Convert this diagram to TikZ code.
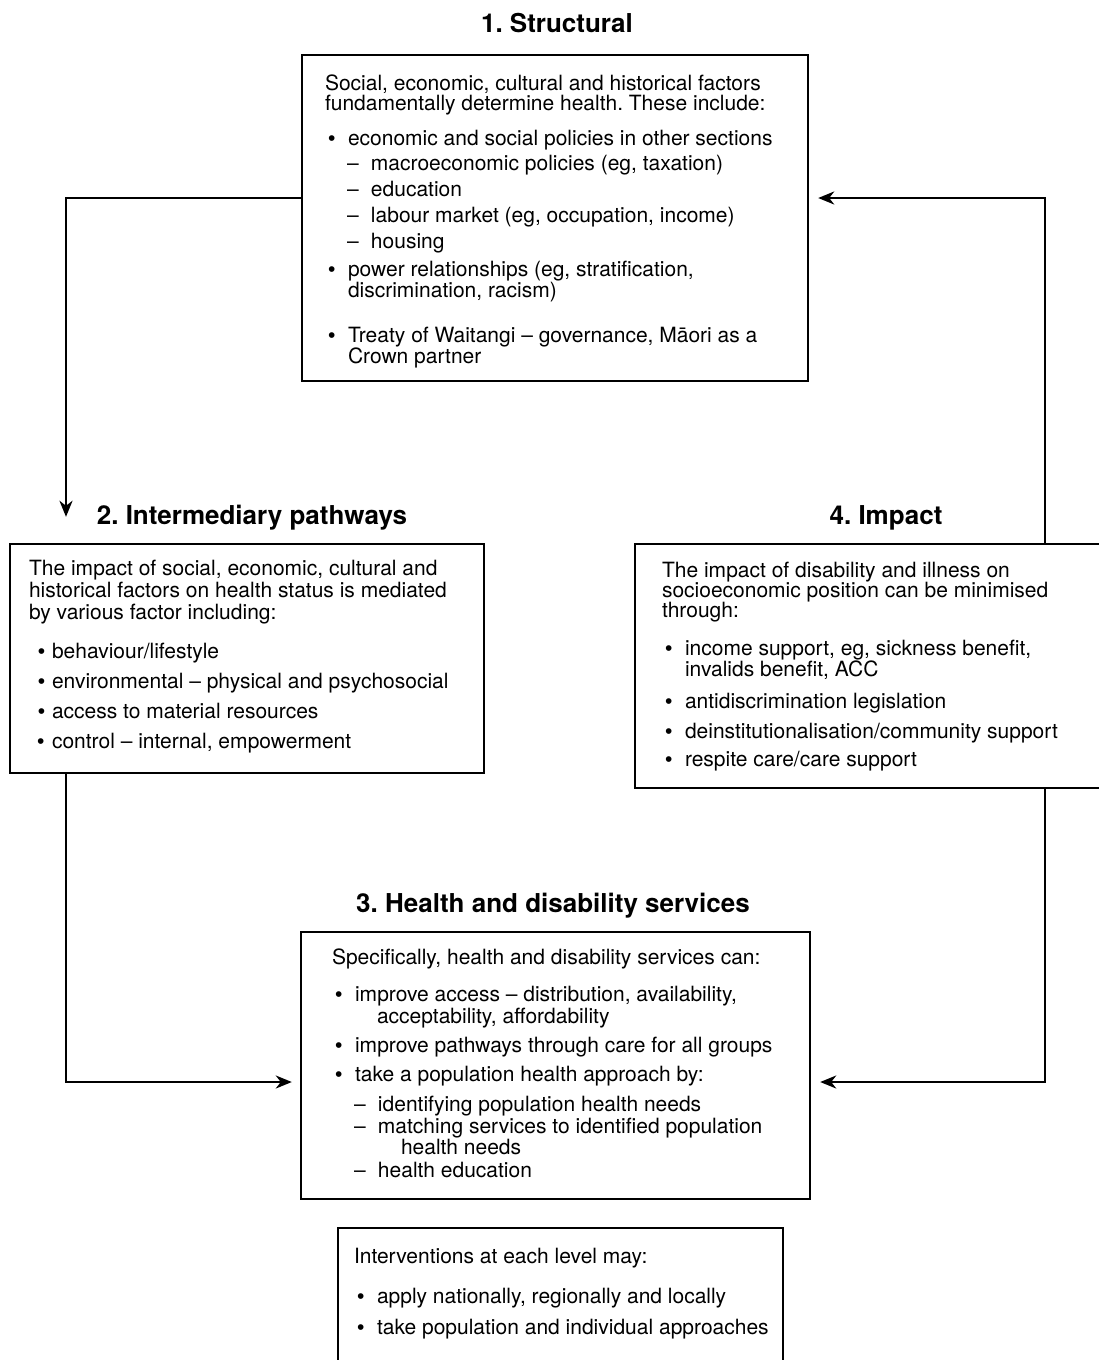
\documentclass[tikz,border=0pt]{standalone}
\usepackage{fontspec}
\setmainfont{TeX Gyre Heros}
\newfontfamily\dotfont{Liberation Sans}
\usetikzlibrary{arrows.meta}
\frenchspacing

\newcommand{\bul}[1][3pt]{\makebox[23pt][l]{\hspace{#1}{\dotfont •}}}
\newcommand{\dsh}{\hspace*{22pt}\makebox[24pt][l]{–}}
\newcommand{\hang}[1]{\hspace*{#1}}

\begin{document}
\begin{tikzpicture}[x=1pt, y=-1pt,
  frame/.style={draw, line width=2.4pt, inner sep=0pt},
  body/.style={anchor=north west, align=left, inner sep=0pt,
    font=\fontsize{21}{21}\selectfont},
  head/.style={anchor=base, font=\fontsize{26}{26}\selectfont\bfseries},
  flow/.style={line width=2.4pt, -{Stealth[length=16pt, width=13pt, inset=5pt]}},
]
  \useasboundingbox (0,0) rectangle (1098,1360);

  \node[head] (t1) at (557,32.5) {1. Structural};
  \node[head] (t2) at (252,524.5) {2. Intermediary pathways};
  \node[head] (t4) at (886,524.5) {4. Impact};
  \node[head] (t3) at (553,912.5) {3. Health and disability services};

  \node[frame, minimum width=506pt, minimum height=326pt] (s1) at (555,218) {};
  \node[frame, minimum width=474pt, minimum height=229pt] (s2) at (247,658.5) {};
  \node[frame, minimum width=477pt, minimum height=244pt] (s4) at (873.5,666) {};
  \node[frame, minimum width=509pt, minimum height=267pt] (s3) at (555.5,1065.5) {};
  \node[frame, minimum width=445pt, minimum height=162pt] (s5) at (560.5,1309) {};

  \node[body] (b1) at ([shift={(24,21)}]s1.north west) {%
    Social, economic, cultural and historical factors\\[-1pt]
    fundamentally determine health. These include:\\[14pt]
    \bul economic and social policies in other sections\\[4pt]
    \dsh macroeconomic policies (eg, taxation)\\[5pt]
    \dsh education\\[5pt]
    \dsh labour market (eg, occupation, income)\\[5pt]
    \dsh housing\\[7pt]
    \bul power relationships (eg, stratification,\\
    \hang{23pt}discrimination, racism)\\[24pt]
    \bul Treaty of Waitangi – governance, Māori as a\\
    \hang{23pt}Crown partner};

  \node[body] (b2) at ([shift={(20,17)}]s2.north west) {%
    The impact of social, economic, cultural and\\[1pt]
    historical factors on health status is mediated\\[1pt]
    by various factor including:\\[18pt]
    \bul[9pt]behaviour/lifestyle\\[9pt]
    \bul[9pt]environmental – physical and psychosocial\\[9pt]
    \bul[9pt]access to material resources\\[9pt]
    \bul[8pt]control – internal, empowerment};

  \node[body] (b4) at ([shift={(28,19)}]s4.north west) {%
    The impact of disability and illness on\\[-1pt]
    socioeconomic position can be minimised\\[-1pt]
    through:\\[17pt]
    \bul income support, eg, sickness benefit,\\
    \hang{23pt}invalids benefit, ACC\\[11pt]
    \bul antidiscrimination legislation\\[9pt]
    \bul deinstitutionalisation/community support\\[7pt]
    \bul respite care/care support};

  \node[body] (b3) at ([shift={(32,18)}]s3.north west) {%
    Specifically, health and disability services can:\\[16pt]
    \bul improve access – distribution, availability,\\[1pt]
    \hang{45pt}acceptability, affordability\\[8pt]
    \bul improve pathways through care for all groups\\[8pt]
    \bul take a population health approach by:\\[9pt]
    \dsh identifying population health needs\\[1pt]
    \dsh matching services to identified population\\
    \hang{69pt}health needs\\[2pt]
    \dsh health education};

  \node[body] (b5) at ([shift={(17,21)}]s5.north west) {%
    Interventions at each level may:\\[19pt]
    \bul apply nationally, regionally and locally\\[10pt]
    \bul take population and individual approaches};

  % corners of the loop
  \coordinate (c1) at (66,198);
  \coordinate (c2) at (1045,198);
  \coordinate (c3) at (66,1082);
  \coordinate (c4) at (1045,1082);

  \draw[flow, shorten >=26pt] (s1.west |- c1) -- (c1) -- (c1 |- s2.north);
  \draw[flow, shorten >=9pt] (c2 |- s4.north) -- (c2) -- (s1.east |- c2);
  \draw[flow, shorten >=8pt] (c3 |- s2.south) -- (c3) -- (s3.west |- c3);
  \draw[flow, shorten >=9pt] (c4 |- s4.south) -- (c4) -- (s3.east |- c4);
\end{tikzpicture}
\end{document}
